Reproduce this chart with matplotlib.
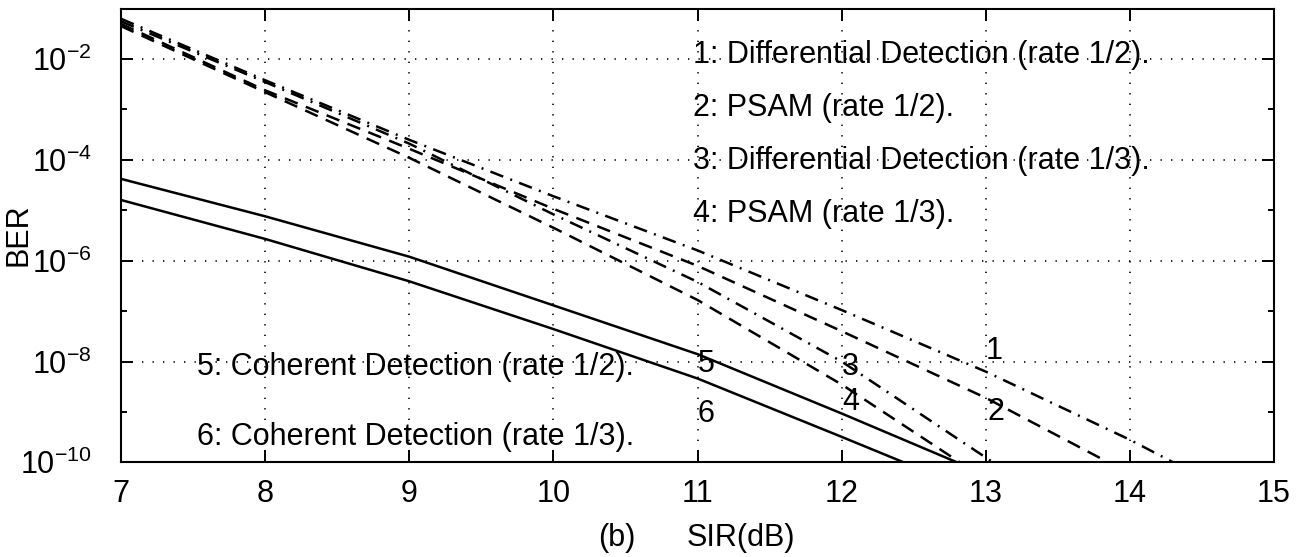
import numpy as np
import matplotlib
matplotlib.use('Agg')
import matplotlib.pyplot as plt
from matplotlib.ticker import FixedLocator, LogFormatterSciNotation, NullFormatter

plt.rcParams['font.family'] = ['Liberation Sans', 'DejaVu Sans']
plt.rcParams['axes.unicode_minus'] = False

# SIR (dB) sample points and BER for each scheme
sir_1 = [7, 8, 9, 10, 11, 12, 13, 14, 14.3]
ber_1 = [6.3e-2, 3.8e-3, 2.5e-4, 1.9e-5, 1.6e-6, 1.05e-7, 6.3e-9, 2.8e-10, 1e-10]

sir_2 = [7, 8, 9, 10, 11, 12, 13, 13.85]
ber_2 = [5.0e-2, 2.4e-3, 1.66e-4, 1.07e-5, 7.9e-7, 4.0e-8, 1.9e-9, 1e-10]

sir_3 = [7, 8, 9, 10, 11, 12, 13.05]
ber_3 = [5.6e-2, 3.5e-3, 2.1e-4, 8.3e-6, 3.8e-7, 1.0e-8, 1e-10]

sir_4 = [7, 8, 9, 10, 11, 12, 12.82]
ber_4 = [4.5e-2, 2.2e-3, 1.1e-4, 4.5e-6, 1.66e-7, 3.5e-9, 1e-10]

sir_5 = [7, 8, 9, 10, 11, 12, 12.8]
ber_5 = [4.2e-5, 7.6e-6, 1.2e-6, 1.3e-7, 1.4e-8, 9.3e-10, 1e-10]

sir_6 = [7, 8, 9, 10, 11, 12, 12.43]
ber_6 = [1.6e-5, 2.7e-6, 3.9e-7, 4.4e-8, 4.6e-9, 3.2e-10, 1e-10]

legend_lines = ['1: Differential Detection (rate 1/2).',
                '2: PSAM (rate 1/2).',
                '3: Differential Detection (rate 1/3).',
                '4: PSAM (rate 1/3).']
coherent_lines = ['5: Coherent Detection (rate 1/2).',
                  '6: Coherent Detection (rate 1/3).']

fs = 22
lw = 1.8
dash = (0, (5.5, 3.5))
dashdot = (0, (5.5, 3, 0.8, 3))

fig = plt.figure(figsize=(13.06, 5.57), dpi=100)
ax = fig.add_axes([0.0927, 0.170, 0.8828, 0.8144])

ax.semilogy(sir_1, ber_1, color='k', lw=lw, linestyle=dashdot)
ax.semilogy(sir_2, ber_2, color='k', lw=lw, linestyle=dash)
ax.semilogy(sir_3, ber_3, color='k', lw=lw, linestyle=dashdot)
ax.semilogy(sir_4, ber_4, color='k', lw=lw, linestyle=dash)
ax.semilogy(sir_5, ber_5, color='k', lw=lw, linestyle='-')
ax.semilogy(sir_6, ber_6, color='k', lw=lw, linestyle='-')

ax.set_xlim(7, 15)
ax.set_ylim(1e-10, 1e-1)
ax.xaxis.set_major_locator(FixedLocator(range(7, 16)))
ax.yaxis.set_major_locator(FixedLocator([1e-10, 1e-8, 1e-6, 1e-4, 1e-2]))
ax.yaxis.set_minor_locator(FixedLocator([1e-9, 1e-7, 1e-5, 1e-3]))
ax.yaxis.set_major_formatter(LogFormatterSciNotation())
ax.yaxis.set_minor_formatter(NullFormatter())

ax.tick_params(which='both', direction='in', top=True, right=True, width=1.4,
               labelsize=fs)
ax.tick_params(which='major', length=8.5)
ax.tick_params(which='minor', length=4.5)
ax.tick_params(axis='y', pad=21)
ax.tick_params(axis='x', pad=12)
for s in ax.spines.values():
    s.set_linewidth(1.5)

ax.grid(True, which='major', color='k', linestyle=(0, (0.8, 5.5)), linewidth=1.2)

# scheme descriptions
for i, txt in enumerate(legend_lines):
    ax.text(10.97, 10 ** (-1.92 - 1.05 * i), txt, fontsize=fs, ha='left', va='center')
ax.text(7.53, 10 ** -8.1, coherent_lines[0], fontsize=fs, ha='left', va='center')
ax.text(7.53, 10 ** -9.5, coherent_lines[1], fontsize=fs, ha='left', va='center')

# curve numbers
ax.text(13.06, 10 ** -7.8, '1', fontsize=fs, ha='center', va='center')
ax.text(13.07, 10 ** -9.0, '2', fontsize=fs, ha='center', va='center')
ax.text(12.06, 10 ** -8.1, '3', fontsize=fs, ha='center', va='center')
ax.text(12.06, 10 ** -8.8, '4', fontsize=fs, ha='center', va='center')
ax.text(11.06, 10 ** -8.05, '5', fontsize=fs, ha='center', va='center')
ax.text(11.06, 10 ** -9.05, '6', fontsize=fs, ha='center', va='center')

fig.text(0.014, 0.578, 'BER', fontsize=fs, rotation=90, ha='center', va='center')
fig.text(0.4724, 0.008, '(b)', fontsize=fs, ha='center', va='bottom')
fig.text(0.5674, 0.008, 'SIR(dB)', fontsize=fs, ha='center', va='bottom')

fig.savefig('out.png', dpi=100)
